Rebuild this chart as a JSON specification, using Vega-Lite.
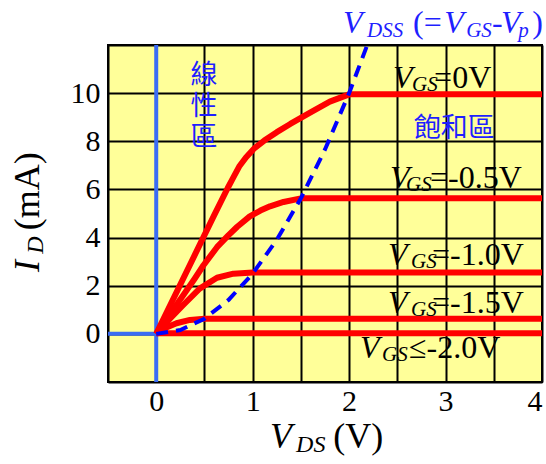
{
  "$schema": "https://vega.github.io/schema/vega-lite/v6.json",
  "width": 434,
  "height": 337,
  "autosize": "none",
  "padding": {"left": 108, "top": 45, "right": 4, "bottom": 82},
  "background": "#ffffff",
  "config": {
    "view": {"fill": "#ffff99", "stroke": "#000000", "strokeWidth": 2},
    "axis": {
      "grid": true, "gridColor": "#000000", "gridWidth": 2, "gridOpacity": 1,
      "ticks": false, "tickSize": 0, "domain": false,
      "labelFont": "Liberation Serif", "labelFontSize": 30, "labelColor": "#000000",
      "labelOverlap": false
    }
  },
  "datasets": {
    "curves": [
      {"c": "0", "x": 0, "y": 0}, {"c": "0", "x": 0.2, "y": 1.64}, {"c": "0", "x": 0.4, "y": 3.28}, {"c": "0", "x": 0.6, "y": 4.92}, {"c": "0", "x": 0.74, "y": 6.05}, {"c": "0", "x": 0.8, "y": 6.5}, {"c": "0", "x": 0.86, "y": 6.95}, {"c": "0", "x": 0.93, "y": 7.33}, {"c": "0", "x": 1.02, "y": 7.72}, {"c": "0", "x": 1.12, "y": 8.03}, {"c": "0", "x": 1.25, "y": 8.38}, {"c": "0", "x": 1.39, "y": 8.72}, {"c": "0", "x": 1.6, "y": 9.2}, {"c": "0", "x": 1.8, "y": 9.65}, {"c": "0", "x": 2.0, "y": 9.95}, {"c": "0", "x": 4, "y": 9.95},
      {"c": "-0.5", "x": 0, "y": 0}, {"c": "-0.5", "x": 0.2, "y": 1.15}, {"c": "-0.5", "x": 0.28, "y": 1.6}, {"c": "-0.5", "x": 0.4, "y": 2.3}, {"c": "-0.5", "x": 0.49, "y": 2.85}, {"c": "-0.5", "x": 0.63, "y": 3.6}, {"c": "-0.5", "x": 0.75, "y": 4.1}, {"c": "-0.5", "x": 0.84, "y": 4.45}, {"c": "-0.5", "x": 0.97, "y": 4.88}, {"c": "-0.5", "x": 1.08, "y": 5.12}, {"c": "-0.5", "x": 1.18, "y": 5.3}, {"c": "-0.5", "x": 1.32, "y": 5.48}, {"c": "-0.5", "x": 1.5, "y": 5.63}, {"c": "-0.5", "x": 4, "y": 5.63},
      {"c": "-1.0", "x": 0, "y": 0}, {"c": "-1.0", "x": 0.14, "y": 0.62}, {"c": "-1.0", "x": 0.28, "y": 1.2}, {"c": "-1.0", "x": 0.45, "y": 1.88}, {"c": "-1.0", "x": 0.63, "y": 2.33}, {"c": "-1.0", "x": 0.8, "y": 2.5}, {"c": "-1.0", "x": 1.0, "y": 2.55}, {"c": "-1.0", "x": 4, "y": 2.55},
      {"c": "-1.5", "x": 0, "y": 0}, {"c": "-1.5", "x": 0.1, "y": 0.25}, {"c": "-1.5", "x": 0.21, "y": 0.44}, {"c": "-1.5", "x": 0.35, "y": 0.58}, {"c": "-1.5", "x": 0.5, "y": 0.63}, {"c": "-1.5", "x": 4, "y": 0.63},
      {"c": "-2.0", "x": 0, "y": 0.03}, {"c": "-2.0", "x": 4, "y": 0.03}
    ],
    "vdss": [
      {"x": 0, "y": 0}, {"x": 0.25, "y": 0.16}, {"x": 0.5, "y": 0.63}, {"x": 0.75, "y": 1.41}, {"x": 1, "y": 2.5}, {"x": 1.25, "y": 3.91}, {"x": 1.5, "y": 5.63}, {"x": 1.75, "y": 7.66}, {"x": 2, "y": 10}, {"x": 2.25, "y": 12.66}
    ],
    "axes0": [
      {"s": "v", "x": 0, "y": -2}, {"s": "v", "x": 0, "y": 12},
      {"s": "h", "x": -0.5, "y": 0}, {"s": "h", "x": 0, "y": 0}
    ],
    "lblV": [
      {"x": 2.456, "y": 10.22, "t": "V"}, {"x": 2.424, "y": 6.06, "t": "V"}, {"x": 2.403, "y": 2.86, "t": "V"}, {"x": 2.403, "y": 0.86, "t": "V"}, {"x": 2.113, "y": -1.0, "t": "V"}
    ],
    "lblSub": [
      {"x": 2.652, "y": 10.09, "t": "GS"}, {"x": 2.59, "y": 5.94, "t": "GS"}, {"x": 2.642, "y": 2.74, "t": "GS"}, {"x": 2.642, "y": 0.74, "t": "GS"}, {"x": 2.342, "y": -1.13, "t": "GS"}
    ],
    "lblRest": [
      {"x": 2.881, "y": 10.22, "t": "=0V"}, {"x": 2.839, "y": 6.06, "t": "=-0.5V"}, {"x": 2.86, "y": 2.86, "t": "=-1.0V"}, {"x": 2.86, "y": 0.86, "t": "=-1.5V"}, {"x": 2.621, "y": -1.0, "t": "≤-2.0V"}
    ],
    "xtV": [{"x": 1.18, "y": -4.74, "t": "V"}],
    "xtSub": [{"x": 1.45, "y": -4.91, "t": "DS"}],
    "xtRest": [{"x": 1.835, "y": -4.74, "t": "(V)"}],
    "ytI": [{"x": -1.215, "y": 2.57, "t": "I"}],
    "ytSub": [{"x": -1.17, "y": 3.33, "t": "D"}],
    "ytRest": [{"x": -1.215, "y": 4.3, "t": "(mA)"}],
    "ttV": [{"x": 1.937, "y": 12.5, "t": "V"}, {"x": 2.986, "y": 12.5, "t": "V"}, {"x": 3.575, "y": 12.5, "t": "V"}],
    "ttSub": [{"x": 2.186, "y": 12.33, "t": "DSS"}, {"x": 3.214, "y": 12.33, "t": "GS"}, {"x": 3.754, "y": 12.33, "t": "p"}],
    "ttRest": [{"x": 2.663, "y": 12.5, "t": "(="}, {"x": 3.482, "y": 12.5, "t": "-"}, {"x": 3.899, "y": 12.5, "t": ")"}],
    "cjk": [
      {"x": 0.496, "y": 10.71, "t": "線\n性\n區"},
      {"x": 3.09, "y": 8.51, "t": "飽和區"}
    ]
  },
  "encoding": {
    "x": {
      "field": "x", "type": "quantitative",
      "scale": {"domain": [-0.5, 4], "nice": false, "zero": false},
      "axis": {
        "title": null,
        "values": [-0.5, 0, 0.5, 1, 1.5, 2, 2.5, 3, 3.5, 4],
        "labelPadding": 4, "labelFlush": true,
        "labelExpr": "datum.value >= 0 && datum.value == floor(datum.value) ? format(datum.value, 'd') : ''"
      }
    },
    "y": {
      "field": "y", "type": "quantitative",
      "scale": {"domain": [-2, 12], "nice": false, "zero": false},
      "axis": {
        "title": null,
        "values": [-2, 0, 2, 4, 6, 8, 10, 12],
        "labelPadding": 8, "labelFlush": false,
        "labelExpr": "datum.value >= 0 && datum.value <= 10 ? format(datum.value, 'd') : ''"
      }
    }
  },
  "layer": [
    {
      "data": {"name": "axes0"},
      "mark": {"type": "line", "color": "#3a6cf4", "strokeWidth": 4},
      "encoding": {"detail": {"field": "s"}}
    },
    {
      "data": {"name": "curves"},
      "mark": {"type": "line", "color": "#ff0000", "strokeWidth": 6, "strokeJoin": "round"},
      "encoding": {"detail": {"field": "c"}}
    },
    {
      "data": {"name": "vdss"},
      "mark": {"type": "line", "color": "#0000ff", "strokeWidth": 4, "strokeDash": [12, 8], "clip": true},
      "encoding": {}
    },
    {
      "data": {"name": "lblV"},
      "mark": {"type": "text", "font": "Liberation Serif", "fontSize": 32, "fontStyle": "italic", "align": "left", "baseline": "alphabetic", "color": "#000000"},
      "encoding": {"text": {"field": "t"}}
    },
    {
      "data": {"name": "lblSub"},
      "mark": {"type": "text", "font": "Liberation Serif", "fontSize": 21, "fontStyle": "italic", "align": "left", "baseline": "alphabetic", "color": "#000000"},
      "encoding": {"text": {"field": "t"}}
    },
    {
      "data": {"name": "lblRest"},
      "mark": {"type": "text", "font": "Liberation Serif", "fontSize": 32, "align": "left", "baseline": "alphabetic", "color": "#000000"},
      "encoding": {"text": {"field": "t"}}
    },
    {
      "data": {"name": "xtV"},
      "mark": {"type": "text", "font": "Liberation Serif", "fontSize": 36, "fontStyle": "italic", "align": "left", "baseline": "alphabetic", "color": "#000000"},
      "encoding": {"text": {"field": "t"}}
    },
    {
      "data": {"name": "xtSub"},
      "mark": {"type": "text", "font": "Liberation Serif", "fontSize": 24, "fontStyle": "italic", "align": "left", "baseline": "alphabetic", "color": "#000000"},
      "encoding": {"text": {"field": "t"}}
    },
    {
      "data": {"name": "xtRest"},
      "mark": {"type": "text", "font": "Liberation Serif", "fontSize": 36, "align": "left", "baseline": "alphabetic", "color": "#000000"},
      "encoding": {"text": {"field": "t"}}
    },
    {
      "data": {"name": "ytI"},
      "mark": {"type": "text", "font": "Liberation Serif", "fontSize": 36, "fontStyle": "italic", "align": "left", "baseline": "alphabetic", "angle": 270, "color": "#000000"},
      "encoding": {"text": {"field": "t"}}
    },
    {
      "data": {"name": "ytSub"},
      "mark": {"type": "text", "font": "Liberation Serif", "fontSize": 24, "fontStyle": "italic", "align": "left", "baseline": "alphabetic", "angle": 270, "color": "#000000"},
      "encoding": {"text": {"field": "t"}}
    },
    {
      "data": {"name": "ytRest"},
      "mark": {"type": "text", "font": "Liberation Serif", "fontSize": 36, "align": "left", "baseline": "alphabetic", "angle": 270, "color": "#000000"},
      "encoding": {"text": {"field": "t"}}
    },
    {
      "data": {"name": "ttV"},
      "mark": {"type": "text", "font": "Liberation Serif", "fontSize": 32, "fontStyle": "italic", "align": "left", "baseline": "alphabetic", "color": "#1f1fff"},
      "encoding": {"text": {"field": "t"}}
    },
    {
      "data": {"name": "ttSub"},
      "mark": {"type": "text", "font": "Liberation Serif", "fontSize": 21, "fontStyle": "italic", "align": "left", "baseline": "alphabetic", "color": "#1f1fff"},
      "encoding": {"text": {"field": "t"}}
    },
    {
      "data": {"name": "ttRest"},
      "mark": {"type": "text", "font": "Liberation Serif", "fontSize": 32, "align": "left", "baseline": "alphabetic", "color": "#1f1fff"},
      "encoding": {"text": {"field": "t"}}
    },
    {
      "data": {"name": "cjk"},
      "mark": {"type": "text", "font": "Noto Sans CJK TC", "fontSize": 27, "align": "center", "baseline": "middle", "lineBreak": "\n", "lineHeight": 31, "color": "#1f1fff"},
      "encoding": {"text": {"field": "t"}}
    }
  ]
}
